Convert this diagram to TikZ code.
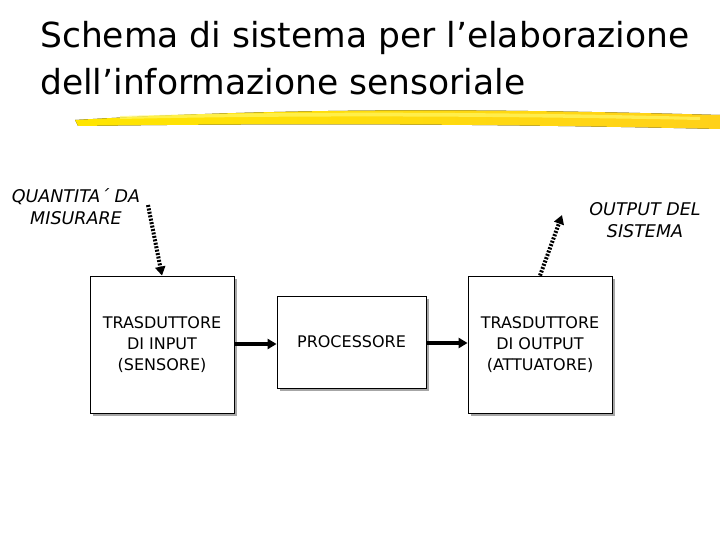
\documentclass[tikz,border=0pt]{standalone}
\usepackage{fontspec}
\setmainfont{DejaVu Sans}
\usetikzlibrary{arrows.meta}
\begin{document}
\begin{tikzpicture}[x=1pt,y=-1pt,
  box/.style={draw=black,line width=0.8pt,fill=white,align=center,font=\fontsize{16}{21}\selectfont,inner sep=0pt},
  shadow/.style={fill=gray!70},
  lab/.style={align=center,font=\fontsize{17.5}{22}\selectfont\itshape},
  dotarr/.style={line width=4pt,dash pattern=on 2pt off 1.5pt,-{Triangle[length=9pt,width=10pt]}},
  solarr/.style={line width=3.5pt,-{Triangle[length=9pt,width=10pt]}}]
\useasboundingbox (0,0) rectangle (720,540);
% title
\node[anchor=base west,font=\fontsize{34.5}{40}\selectfont,inner sep=0pt] (t1) at (40,48) {Schema di sistema per l’elaborazione};
\node[anchor=base west,font=\fontsize{34.5}{40}\selectfont,inner sep=0pt] (t2) at (40,95) {dell’informazione sensoriale};
% brush
\fill[left color=yellow!80!orange,right color=yellow!60!orange!90] (75,120) .. controls (300,107) and (500,109) .. (720,115) -- (720,129) .. controls (500,124) and (300,123) .. (78,126) -- cycle;
\fill[yellow!60!white,opacity=0.7] (120,116) .. controls (300,111) and (500,112) .. (700,117) -- (700,120) .. controls (500,116) and (300,115) .. (120,119) -- cycle;
% shadows
\fill[shadow] (93,279) rectangle (237,416);
\fill[shadow] (280,299) rectangle (429,391);
\fill[shadow] (471,279) rectangle (615,416);
% boxes
\node[box,minimum width=144pt,minimum height=137pt] (in) at (162,344.5) {TRASDUTTORE\\DI INPUT\\(SENSORE)};
\node[box,minimum width=149pt,minimum height=92pt] (pr) at (351.5,342) {PROCESSORE};
\node[box,minimum width=144pt,minimum height=137pt] (out) at (540,344.5) {TRASDUTTORE\\DI OUTPUT\\(ATTUATORE)};
% labels
\node[lab] (q) at (76,207) {QUANTITA´ DA\\MISURARE};
\node[lab] (o) at (645,220) {OUTPUT DEL\\SISTEMA};
\coordinate (qs) at (148,205);
\coordinate (oe) at (562,215);
\draw[dotarr] (qs) -- (in.north);
\draw[dotarr] (out.north) -- (oe);
\draw[solarr] (in.east |- 0,344) -- (pr.west |- 0,344);
\draw[solarr] (pr.east |- 0,343) -- (out.west |- 0,343);
\end{tikzpicture}
\end{document}
